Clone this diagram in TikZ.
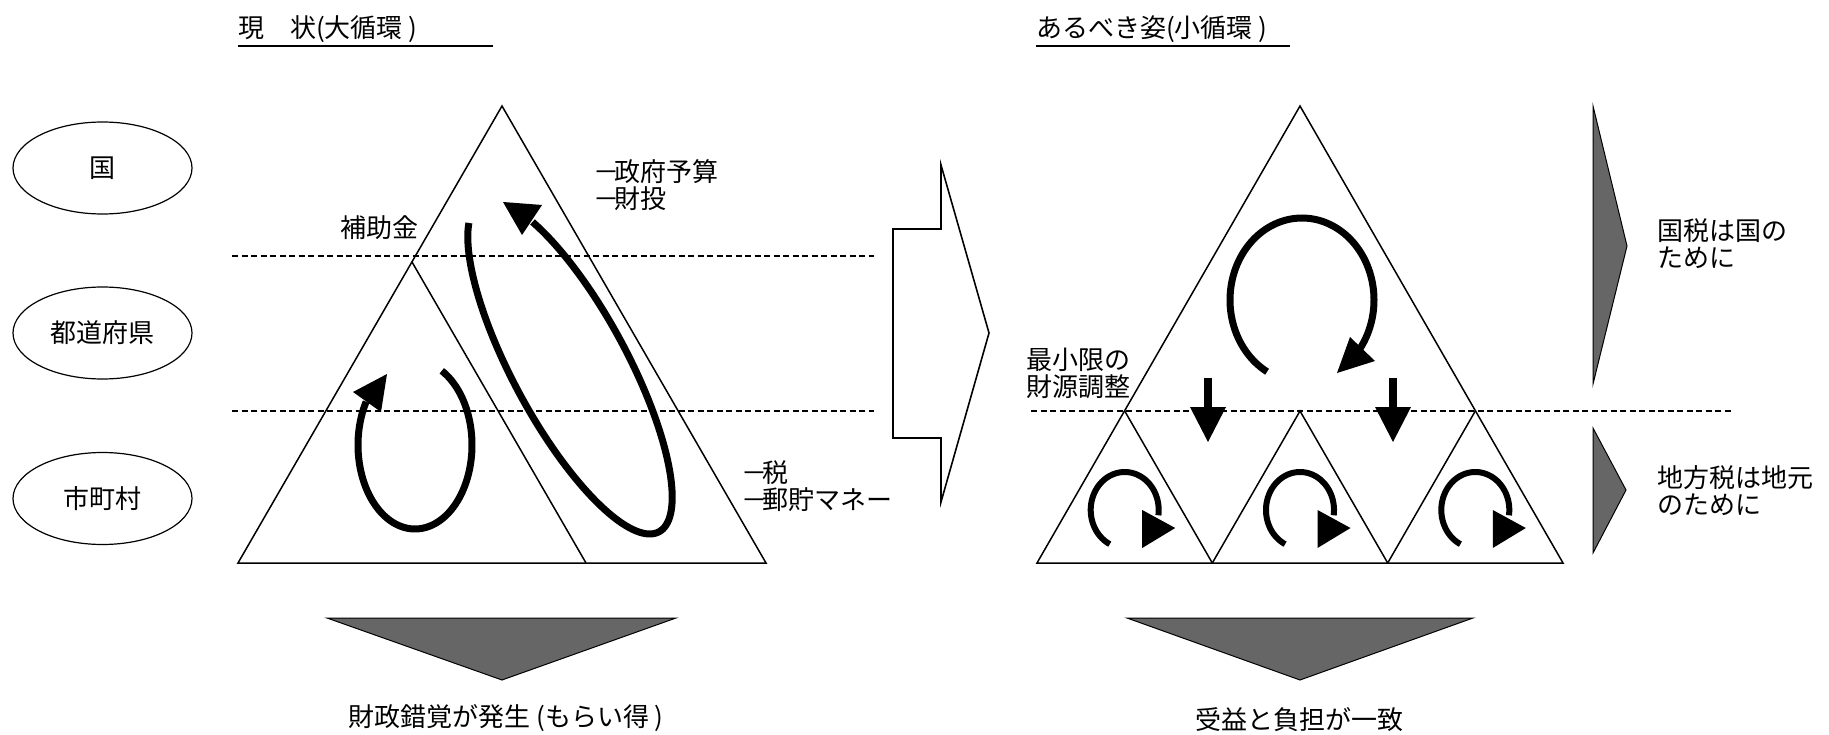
\documentclass[tikz,border=0pt]{standalone}
\usepackage{fontspec}
\setmainfont{Noto Sans CJK JP}
\usetikzlibrary{shapes.geometric}
\definecolor{gr}{HTML}{666666}
\newcommand\jfont{\fontsize{26}{27}\selectfont}
\newcommand\jdash{－\hspace{-5pt}}
\begin{document}
\begin{tikzpicture}[x=1pt,y=-1pt,
  thinline/.style={line width=1.5pt},
  lvl/.style={draw, ellipse, line width=1.2pt, minimum width=179pt, minimum height=92pt, inner sep=0pt, font=\jfont},
  lbl/.style={font=\jfont, inner sep=0pt, align=left, anchor=west},
  ctr/.style={font=\jfont, inner sep=0pt},
  bigloop/.style={line width=7pt},
  smallloop/.style={line width=6pt},
  dashline/.style={dash pattern=on 6pt off 3.5pt, line width=1.2pt},
  greytri/.style={fill=gr, draw=black, line width=1pt},
  uline/.style={line width=1.3pt}]
\useasboundingbox (0,0) rectangle (1829,735);

% level ellipses
\node[lvl] (kuni) at (102.5,168) {国};
\node[lvl] (todo) at (102.5,333) {都道府県};
\node[lvl] (shi) at (102.5,498.5) {市町村};

% titles
\node[lbl] (t1) at (238,29) {現　状(大循環 )};
\draw[uline] (238,46) -- (493,46);
\node[lbl] (t2) at (1036,29) {あるべき姿(小循環 )};
\draw[uline] (1036,46) -- (1290,46);

% dashed level lines
\draw[dashline] (232,256) -- (874,256);
\draw[dashline] (232,411) -- (874,411);
\draw[dashline] (1031,411) -- (1733,411);

% left triangle
\draw[thinline] (238,563) -- (502,106) -- (766,563) -- cycle;
\draw[thinline] (412,262) -- (586,563);

% right triangle
\draw[thinline] (1037,563) -- (1300,106) -- (1563,563) -- cycle;
\draw[thinline] (1124.7,411) -- (1212.3,563);
\draw[thinline] (1212.3,563) -- (1300,411) -- (1387.7,563);
\draw[thinline] (1387.7,563) -- (1475.3,411);

% left loops
\draw[bigloop] plot[domain=-62:211, samples=90, smooth] ({415+57*cos(\x)}, {445+84*sin(\x)});
\fill (353,392) -- (387,374) -- (381,412) -- cycle;
\draw[bigloop] plot[domain=120.4:420.3, samples=120, smooth] ({570-79.7*sin(\x)+64*cos(\x)}, {367-167*sin(\x)});
\fill (503,202) -- (542,205) -- (522,235) -- cycle;

% right big loop
\draw[bigloop] plot[domain=119:396, samples=100, smooth] ({1302+72*cos(\x)}, {300+82*sin(\x)});
\fill (1350,337) -- (1375,361) -- (1337,373) -- cycle;

% small loops
\foreach \cx in {1124.7,1300,1475.3}{
  \draw[smallloop] plot[domain=116:368, samples=80, smooth] ({\cx+34*cos(\x)}, {510+38*sin(\x)});
  \fill (\cx+17.5,510) -- (\cx+50.5,528) -- (\cx+17.5,548) -- cycle;
}

% down arrows
\foreach \ax in {1208,1393}{
  \draw[line width=8pt] (\ax,378) -- (\ax,408);
  \fill (\ax-18,407) -- (\ax+18,407) -- (\ax,442) -- cycle;
}

% block arrow
\draw[line width=1.6pt, fill=white] (893,229) -- (941,229) -- (941,165) -- (989,333) -- (941,502) -- (941,438) -- (893,438) -- cycle;

% grey triangles
\draw[greytri] (327,618) -- (676,618) -- (502,680) -- cycle;
\draw[greytri] (1127,618) -- (1473,618) -- (1300,680) -- cycle;
\draw[greytri] (1593,106) -- (1627,246) -- (1593,384) -- cycle;
\draw[greytri] (1593,428) -- (1626,490) -- (1593,553) -- cycle;

% labels
\node[lbl] (hojo) at (340,228) {補助金};
\node[lbl] (gov) at (593,185) {\jdash 政府予算\\\jdash 財投};
\node[lbl] (tax) at (741,486) {\jdash 税\\\jdash 郵貯マネー};
\node[lbl] (saisho) at (1026,373) {最小限の\\財源調整};
\node[lbl] (kokuzei) at (1657,244) {国税は国の\\ために};
\node[lbl] (chihou) at (1657,491) {地方税は地元\\のために};
\node[ctr] (sakkaku) at (506,718) {財政錯覚が発生 (もらい得 )};
\node[ctr] (jueki) at (1299,720) {受益と負担が一致};
\end{tikzpicture}
\end{document}
